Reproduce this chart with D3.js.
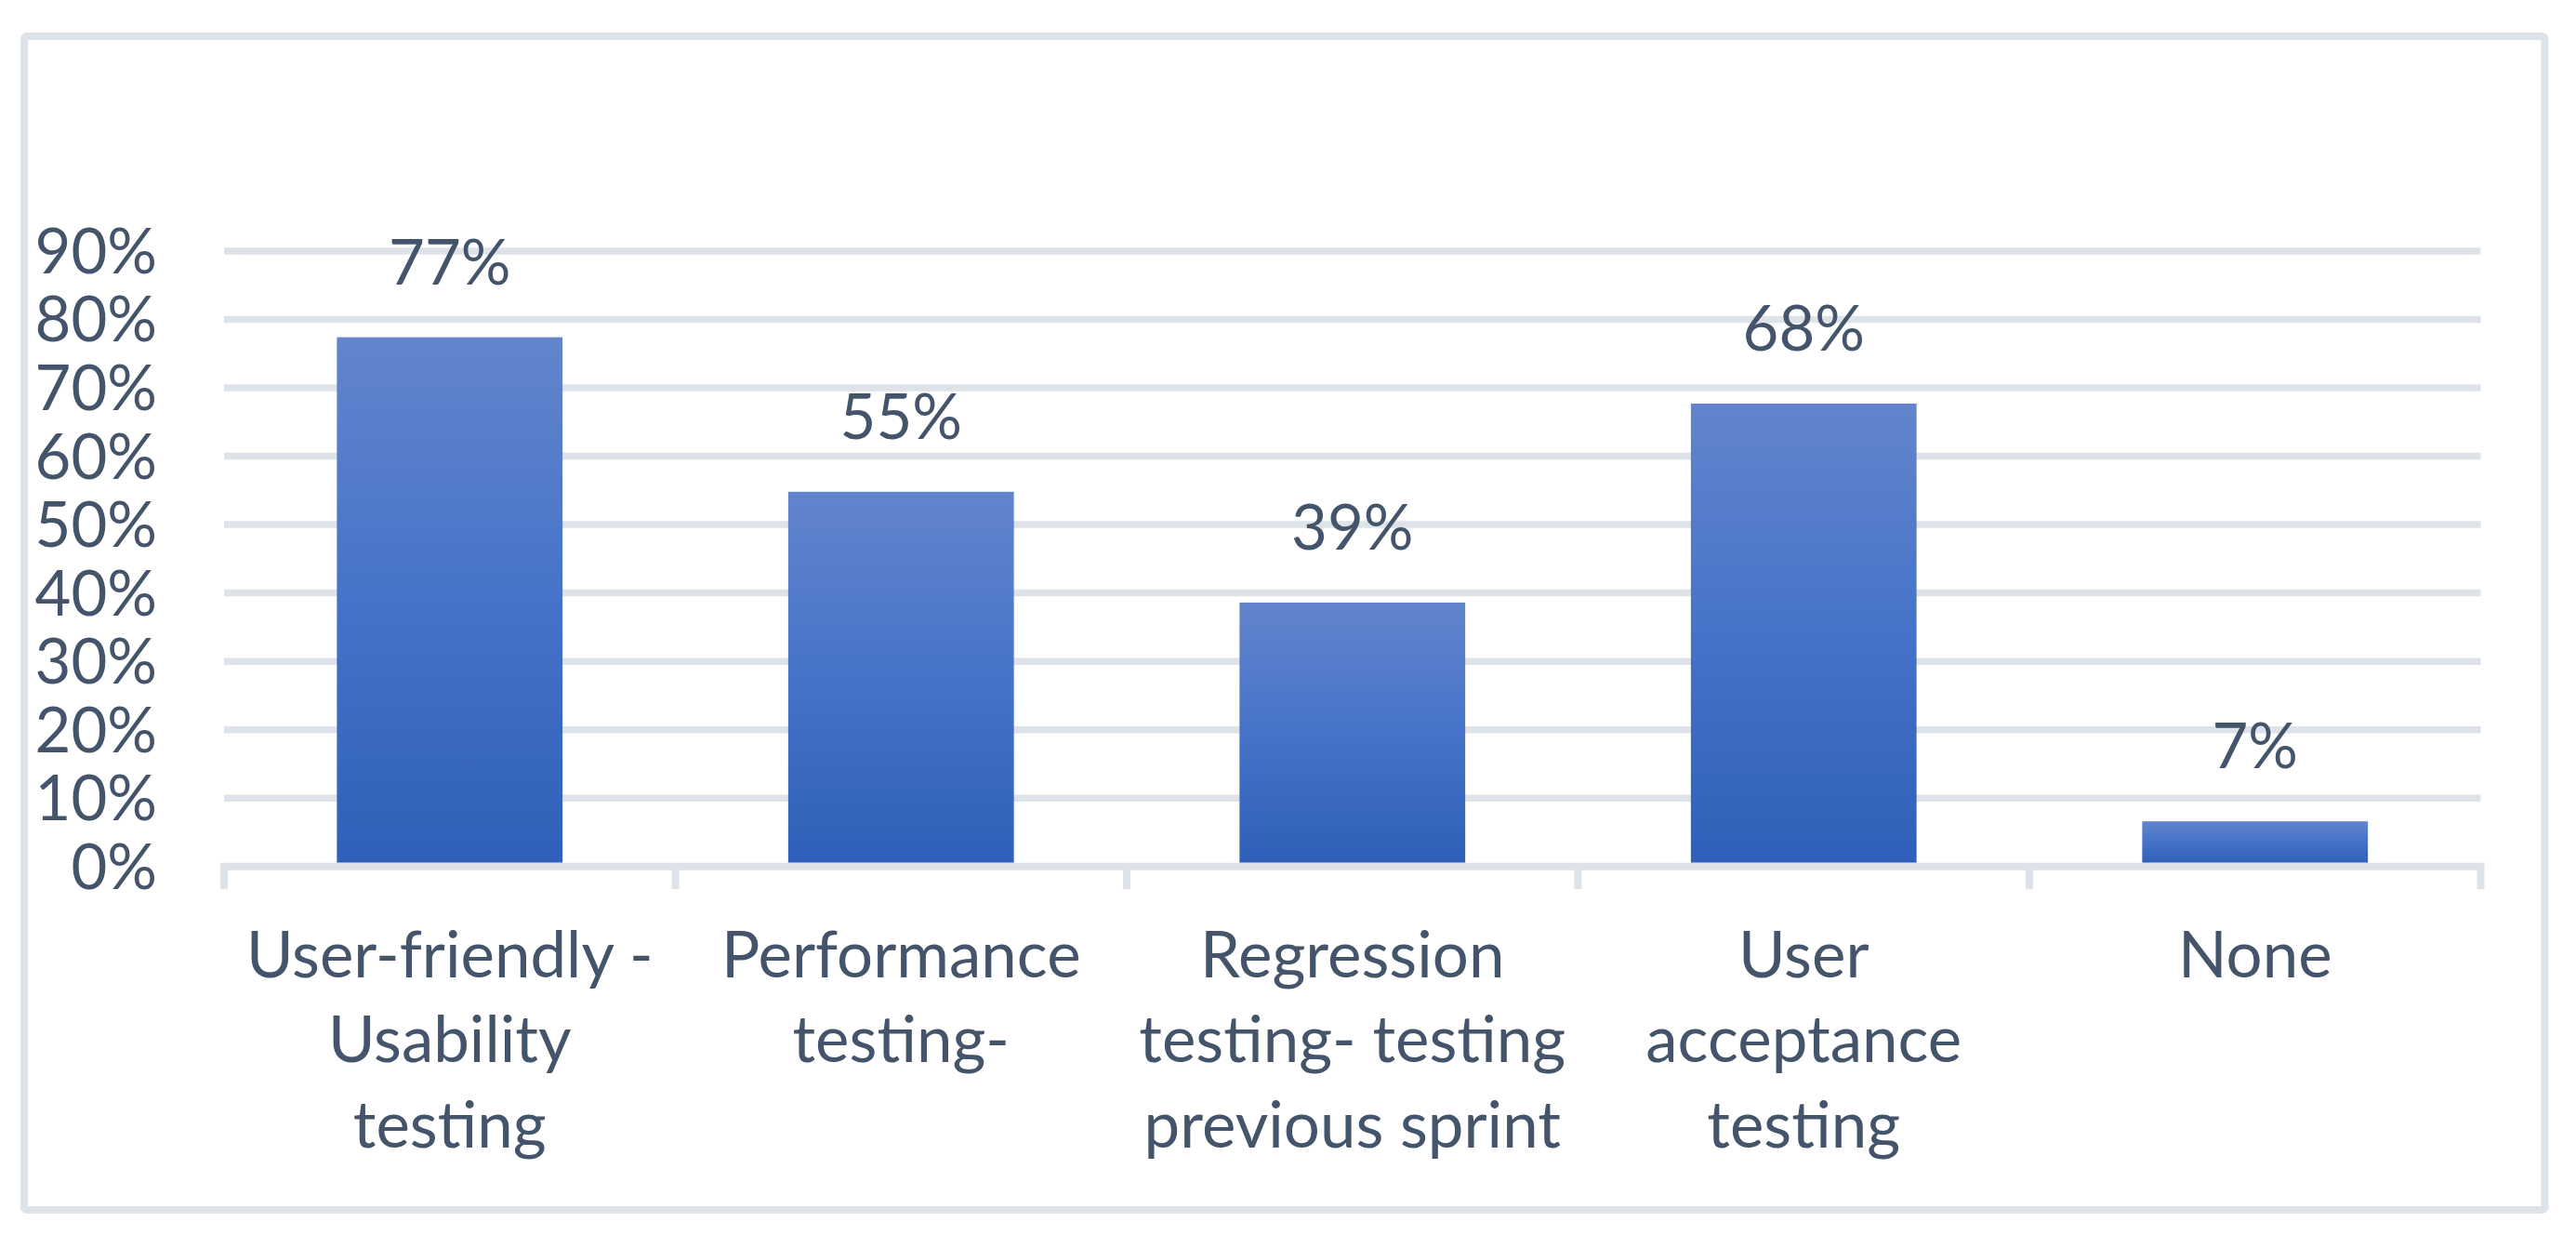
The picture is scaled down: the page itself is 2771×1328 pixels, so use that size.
<!DOCTYPE html>
<html>
<head>
<meta charset="utf-8">
<script src="https://cdn.jsdelivr.net/npm/d3@7"></script>
<style>
  html, body { margin: 0; padding: 0; background: #ffffff; }
  svg { display: block; }
  text { font-family: Lato, "Open Sans", sans-serif; fill: #44546A; }
</style>
</head>
<body>
<svg id="chart" width="2771" height="1328"></svg>
<script>
// ---- data ----
const categoryLines = [
  ["User-friendly -", "Usability", "testing"],
  ["Performance", "testing-"],
  ["Regression", "testing- testing", "previous sprint"],
  ["User", "acceptance", "testing"],
  ["None"]
];
const categories = categoryLines.map(l => l.join(" "));
const values = [0.774, 0.548, 0.386, 0.677, 0.066];
const yTicks = [0, 0.1, 0.2, 0.3, 0.4, 0.5, 0.6, 0.7, 0.8, 0.9];

// ---- layout ----
const plot = { left: 241, right: 2668.5, top: 270, bottom: 931.7 };
const numFontSize = 67;
const catFontSize = 69;
const gridColor = "#DEE2E9";
const textColor = "#44546A";

const svg = d3.select("#chart");

// outer border
svg.append("rect")
  .attr("x", 26).attr("y", 39)
  .attr("width", 2711.5).attr("height", 1262)
  .attr("rx", 3)
  .attr("fill", "#ffffff")
  .attr("stroke", gridColor)
  .attr("stroke-width", 8);

const x = d3.scaleBand()
  .domain(categories)
  .range([plot.left, plot.right])
  .paddingInner(0.5)
  .paddingOuter(0.25);

const y = d3.scaleLinear()
  .domain([0, 0.9])
  .range([plot.bottom, plot.top]);

// gradient
const defs = svg.append("defs");
const grad = defs.append("linearGradient")
  .attr("id", "barGrad")
  .attr("x1", 0).attr("y1", 0).attr("x2", 0).attr("y2", 1);
grad.append("stop").attr("offset", "0%").attr("stop-color", "#6285CC");
grad.append("stop").attr("offset", "50%").attr("stop-color", "#4673C8");
grad.append("stop").attr("offset", "100%").attr("stop-color", "#2F5FB8");

// gridlines (0 drawn as axis)
svg.append("g")
  .selectAll("line")
  .data(yTicks.filter(d => d > 0))
  .join("line")
  .attr("x1", plot.left).attr("x2", plot.right)
  .attr("y1", d => y(d)).attr("y2", d => y(d))
  .attr("stroke", gridColor)
  .attr("stroke-width", 7.5);

// y axis labels via d3 axis
const yAxis = d3.axisLeft(y)
  .tickValues(yTicks)
  .tickFormat(d3.format(".0%"))
  .tickSize(0)
  .tickPadding(0);
const yg = svg.append("g")
  .attr("transform", `translate(169,0)`)
  .call(yAxis);
yg.select(".domain").remove();
yg.selectAll("text")
  .attr("font-size", numFontSize)
  .attr("font-family", "Lato, 'Open Sans', sans-serif")
  .attr("fill", textColor)
  .attr("dy", "0.35em");

// bars
svg.append("g")
  .selectAll("rect")
  .data(values)
  .join("rect")
  .attr("x", (d, i) => x(categories[i]))
  .attr("width", x.bandwidth())
  .attr("y", d => y(d))
  .attr("height", d => y(0) - 4 - y(d))
  .attr("fill", "url(#barGrad)");

// x axis line
svg.append("line")
  .attr("x1", plot.left - 4).attr("x2", plot.right + 4)
  .attr("y1", y(0)).attr("y2", y(0))
  .attr("stroke", gridColor)
  .attr("stroke-width", 8);

// x tick marks at band boundaries
const boundaries = d3.range(categories.length + 1).map(i => x.range()[0] + i * x.step());
svg.append("g")
  .selectAll("line")
  .data(boundaries)
  .join("line")
  .attr("x1", d => d).attr("x2", d => d)
  .attr("y1", y(0)).attr("y2", y(0) + 24.5)
  .attr("stroke", gridColor)
  .attr("stroke-width", 8);

// value labels
svg.append("g")
  .selectAll("text")
  .data(values)
  .join("text")
  .attr("x", (d, i) => x(categories[i]) + x.bandwidth() / 2)
  .attr("y", d => y(d) - 57)
  .attr("text-anchor", "middle")
  .attr("font-size", numFontSize)
  .text(d => d3.format(".0%")(d));

// category labels
const cat = svg.append("g")
  .selectAll("text")
  .data(categoryLines)
  .join("text")
  .attr("x", (d, i) => x(categories[i]) + x.bandwidth() / 2)
  .attr("y", 1050.7)
  .attr("text-anchor", "middle")
  .attr("font-size", catFontSize);
cat.each(function(lines, i) {
  const t = d3.select(this);
  const cx = x(categories[i]) + x.bandwidth() / 2;
  lines.forEach((ln, j) => {
    t.append("tspan")
      .attr("x", cx)
      .attr("dy", j === 0 ? 0 : 91.5)
      .text(ln);
  });
});
</script>
</body>
</html>
